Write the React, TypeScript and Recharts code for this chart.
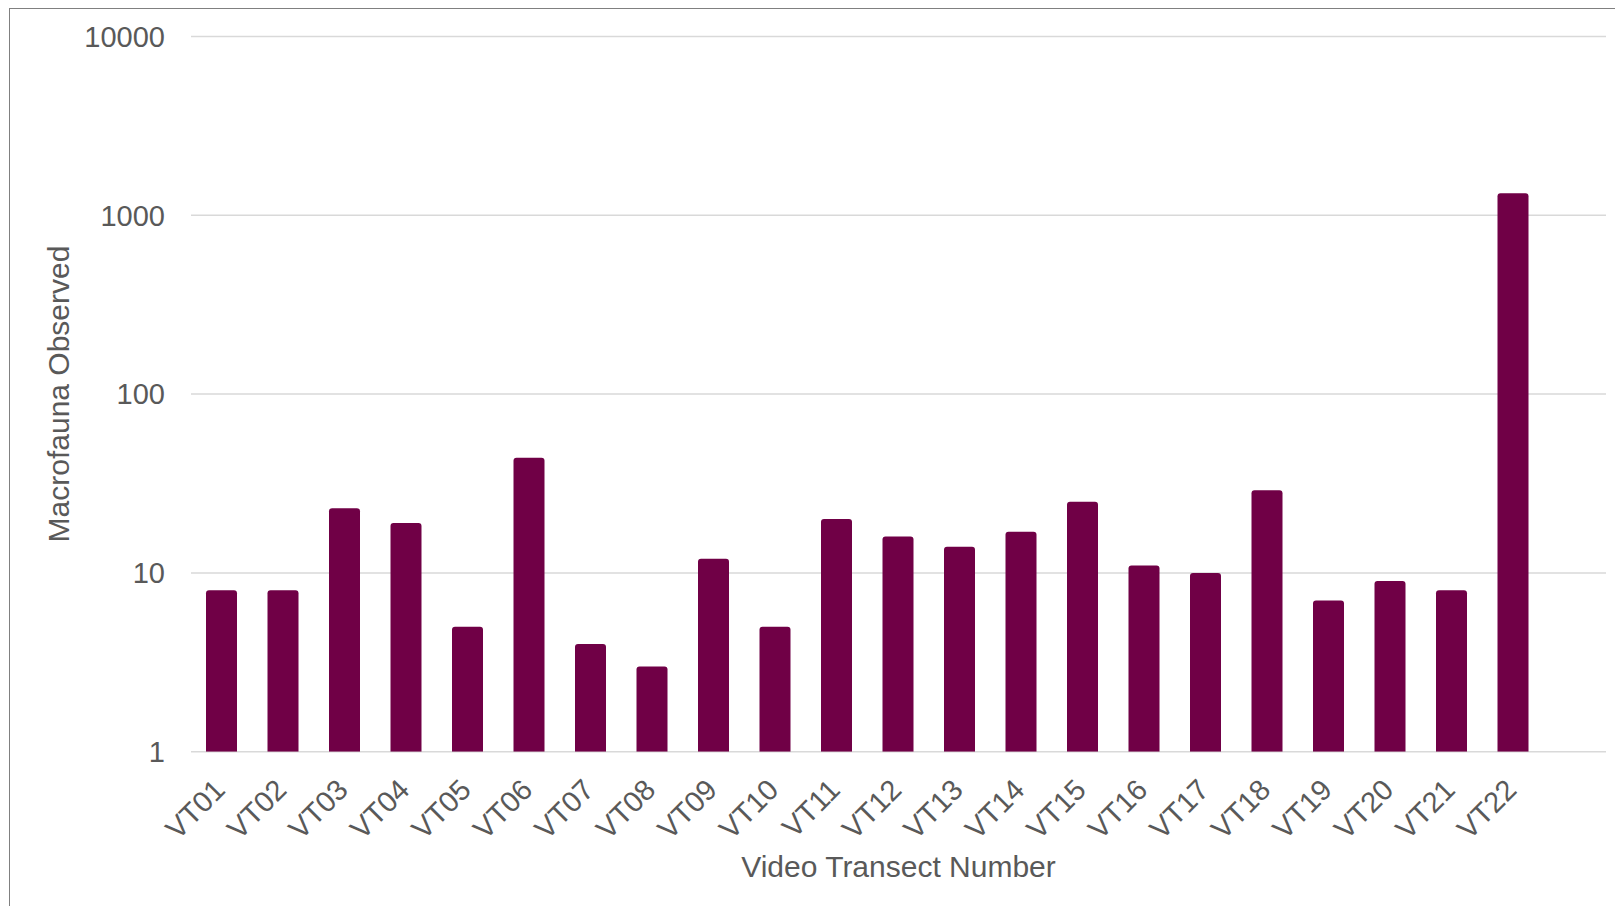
import React from 'react';
import { BarChart, Bar, XAxis, YAxis, CartesianGrid } from 'recharts';

const categories = ['VT01','VT02','VT03','VT04','VT05','VT06','VT07','VT08','VT09','VT10','VT11','VT12','VT13','VT14','VT15','VT16','VT17','VT18','VT19','VT20','VT21','VT22'];
const macrofauna = [8, 8, 23, 19, 5, 44, 4, 3, 12, 5, 20, 16, 14, 17, 25, 11, 10, 29, 7, 9, 8, 1330];
const yTicks = [1, 10, 100, 1000, 10000];

const data = categories.map((name, i) => ({ name, value: macrofauna[i] }));

const FONT = '"Liberation Sans", Arial, sans-serif';
const TEXT = '#595959';
const BAR = '#700046';
const GRID = '#d9d9d9';

const XTick = (props: any) => {
  const { x, y, payload } = props;
  const ax = x + 5;
  const ay = y + 32;
  return (
    <text x={ax} y={ay} textAnchor="end" transform={`rotate(-45 ${ax} ${ay})`} fill={TEXT} fontSize={29} fontFamily={FONT}>
      {payload.value}
    </text>
  );
};

const XTitle = () => (
  <text x={890.5} y={869} textAnchor="middle" fill={TEXT} fontSize={30} fontFamily={FONT}>
    Video Transect Number
  </text>
);

const YTitle = () => (
  <text x={50} y={386} textAnchor="middle" dominantBaseline="central" transform="rotate(-90 50 386)" fill={TEXT} fontSize={30} fontFamily={FONT}>
    Macrofauna Observed
  </text>
);

export default function App() {
  return (
    <div style={{ position: 'relative', width: 1615, height: 898, overflow: 'hidden', background: '#fff' }}>
      <div style={{ position: 'absolute', left: 1, top: 0, width: 2000, height: 2000, borderLeft: '1px solid #808080', borderTop: '1px solid #808080' }} />
      <div style={{ position: 'absolute', left: 0, top: 0 }}>
        <BarChart width={1615} height={898} data={data} margin={{ top: 28.5, right: 17, left: 0, bottom: 54.3 }}>
          <CartesianGrid vertical={false} stroke={GRID} strokeWidth={1.5} />
          <XAxis
            dataKey="name"
            height={100}
            axisLine={false}
            tickLine={false}
            interval={0}
            padding={{ left: 0, right: 62 }}
            tick={<XTick />}
            label={<XTitle />}
          />
          <YAxis
            scale="log"
            domain={[1, 10000]}
            ticks={yTicks}
            allowDataOverflow
            width={183}
            axisLine={false}
            tickLine={false}
            tickSize={6}
            tickMargin={20}
            tick={{ fill: TEXT, fontSize: 29, fontFamily: FONT }}
            label={<YTitle />}
          />
          <Bar dataKey="value" fill={BAR} barSize={31} radius={[3, 3, 0, 0]} isAnimationActive={false} />
        </BarChart>
      </div>
    </div>
  );
}
